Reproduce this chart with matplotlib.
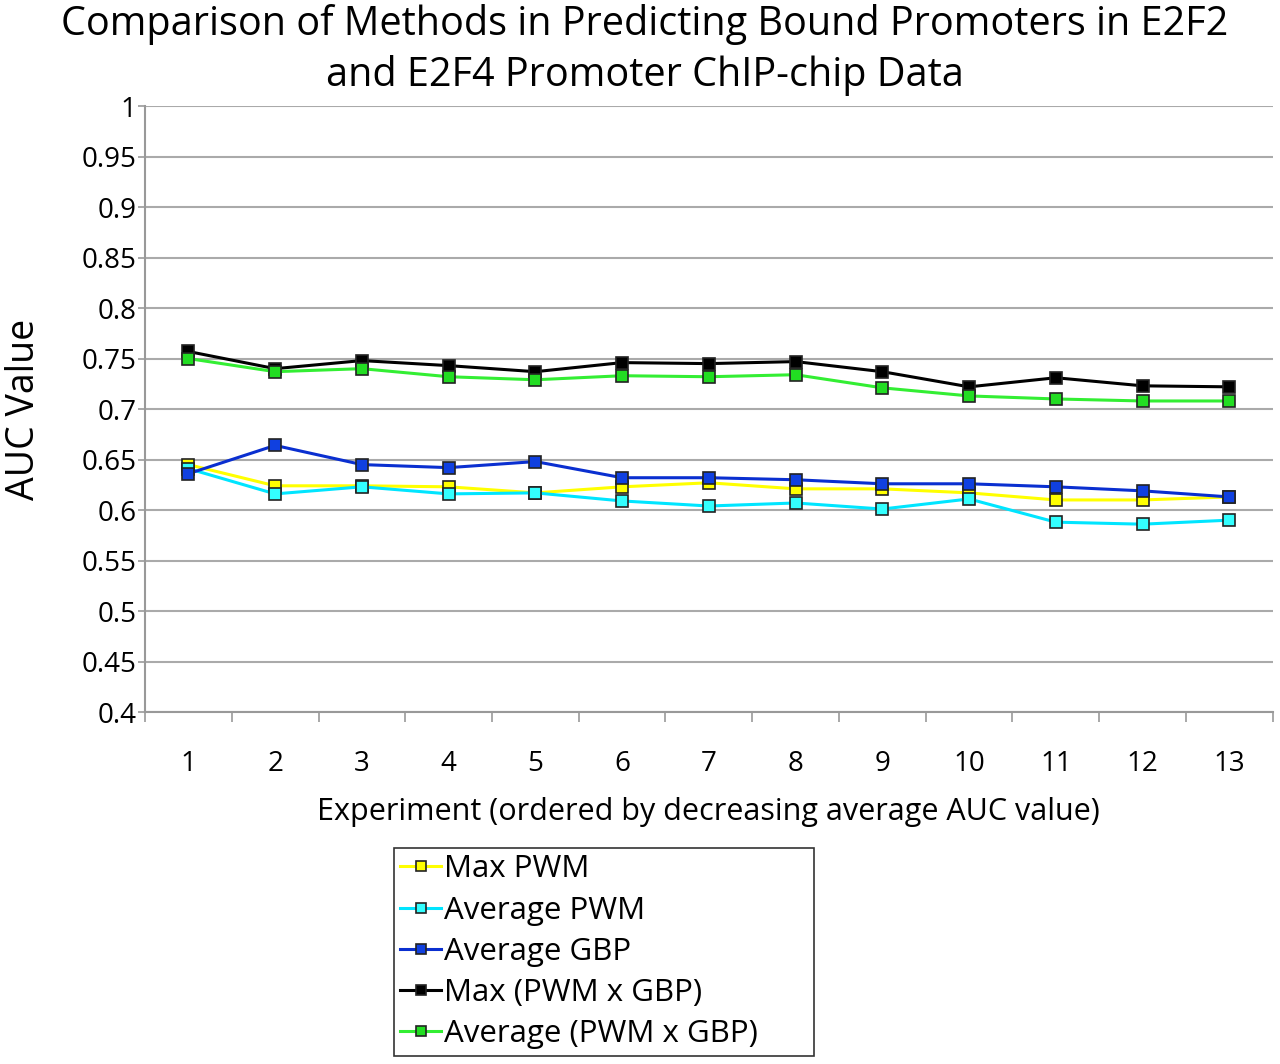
import matplotlib
matplotlib.use("Agg")
import matplotlib.pyplot as plt
from matplotlib.ticker import FixedLocator

plt.rcParams['font.family'] = ['Open Sans', 'DejaVu Sans']

experiments = list(range(1, 14))
max_pwm = [0.645, 0.624, 0.624, 0.623, 0.617, 0.623, 0.627, 0.621, 0.621, 0.617, 0.610, 0.610, 0.613]
avg_pwm = [0.641, 0.616, 0.623, 0.616, 0.617, 0.609, 0.604, 0.607, 0.601, 0.611, 0.588, 0.586, 0.590]
avg_gbp = [0.636, 0.664, 0.645, 0.642, 0.648, 0.632, 0.632, 0.630, 0.626, 0.626, 0.623, 0.619, 0.613]
max_pwm_gbp = [0.757, 0.740, 0.748, 0.743, 0.737, 0.746, 0.745, 0.747, 0.737, 0.722, 0.731, 0.723, 0.722]
avg_pwm_gbp = [0.750, 0.737, 0.740, 0.732, 0.729, 0.733, 0.732, 0.734, 0.721, 0.713, 0.710, 0.708, 0.708]

series = [
    ("Max PWM", max_pwm, "#FFFF00", "#FFFF00"),
    ("Average PWM", avg_pwm, "#00E5FF", "#33FFFF"),
    ("Average GBP", avg_gbp, "#0A2FD0", "#1040E0"),
    ("Max (PWM x GBP)", max_pwm_gbp, "#000000", "#000000"),
    ("Average (PWM x GBP)", avg_pwm_gbp, "#33EE33", "#22DD22"),
]

fig = plt.figure(figsize=(12.8, 10.64), dpi=100)
ax = fig.add_axes([0.1133, 0.3308, 0.881, 0.5695])

handles = []
for name, vals, lc, fc in series:
    h, = ax.plot(experiments, vals, color=lc, lw=2.2, marker='s', markersize=9,
                 markerfacecolor=fc, markeredgecolor='#222222', markeredgewidth=1.2,
                 label=name)
    handles.append(h)

ax.set_xlim(0.5, 13.5)
ax.set_ylim(0.4, 1.0)
yt = [round(0.4 + 0.05 * i, 2) for i in range(13)]
ax.set_yticks(yt)
ax.set_yticklabels([f"{v:g}" for v in yt], fontsize=20)
ax.set_xticks(experiments)
ax.set_xticklabels([str(e) for e in experiments], fontsize=20)
ax.xaxis.set_minor_locator(FixedLocator([i + 0.5 for i in range(0, 14)]))
ax.tick_params(axis='x', which='major', length=0, pad=27)
ax.tick_params(axis='x', which='minor', length=7, color='#999999', width=1.2)
ax.tick_params(axis='y', which='major', length=5, color='#999999', width=1.2, pad=1)

ax.grid(axis='y', color='#AAAAAA', lw=1.5)
ax.set_axisbelow(True)
for s in ['top', 'right']:
    ax.spines[s].set_visible(False)
for s in ['left', 'bottom']:
    ax.spines[s].set_color('#999999')
    ax.spines[s].set_linewidth(1.5)

ax.set_ylabel("AUC Value", fontsize=27)
ax.yaxis.set_label_coords(-0.0905, 0.5)
ax.set_xlabel("Experiment (ordered by decreasing average AUC value)", fontsize=22, labelpad=14)
fig.suptitle("Comparison of Methods in Predicting Bound Promoters in E2F2\nand E2F4 Promoter ChIP-chip Data",
             fontsize=28.5, y=0.996, x=0.504, linespacing=1.3)

leg = fig.legend(handles=handles, loc='upper left',
                 bbox_to_anchor=(394/1280, 1 - 1058/1064, 420/1280, 210/1064), mode='expand',
                 borderaxespad=0, fontsize=22.5, frameon=True, fancybox=False, edgecolor='black',
                 handlelength=1.3, handletextpad=0.1, labelspacing=0.36, borderpad=0.2,
                 markerscale=0.75)
leg.get_frame().set_linewidth(1.2)

fig.savefig("out.png", dpi=100)
